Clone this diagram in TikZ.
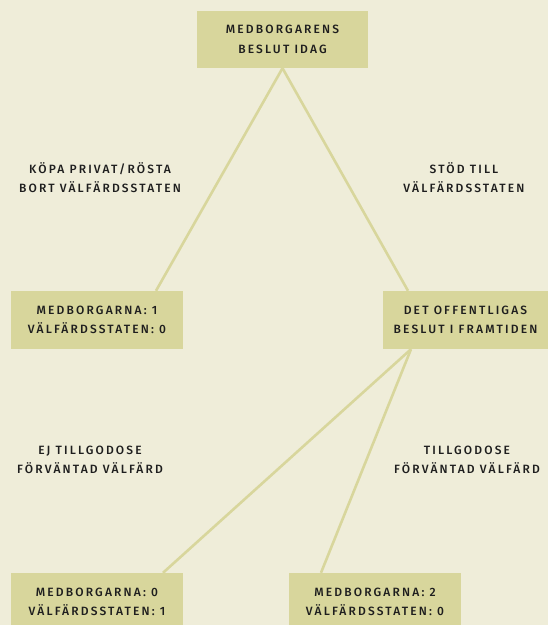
\documentclass[tikz,border=0pt]{standalone}
\usepackage{fontspec}
\setmainfont{Fira Sans}[UprightFont=* Medium,LetterSpace=18]
\definecolor{bg}{HTML}{EFEDD9}
\definecolor{boxfill}{HTML}{D8D69C}
\definecolor{ink}{HTML}{1E1E1E}
\begin{document}
\begin{tikzpicture}[x=1pt,y=-1pt,
  box/.style={fill=boxfill,draw=none,inner sep=0pt,align=center,text=ink,
    font=\fontsize{12}{19.5}\selectfont},
  lbl/.style={inner sep=0pt,align=center,text=ink,font=\fontsize{12}{19}\selectfont},
  link/.style={draw=boxfill,line width=2.6pt}]
\fill[bg] (0,0) rectangle (548,625);
\useasboundingbox (0,0) rectangle (548,625);
\begin{scope}
\clip (0,0) rectangle (548,625);
\node[box,minimum width=171pt,minimum height=57pt] (top) at (282.5,39.5) {MEDBORGARENS\\BESLUT IDAG};
\node[box,minimum width=172pt,minimum height=58pt] (lm) at (97,320) {MEDBORGARNA: 1\\VÄLFÄRDSSTATEN: 0};
\node[box,minimum width=165pt,minimum height=58pt] (rm) at (465.5,320) {DET OFFENTLIGAS\\BESLUT I FRAMTIDEN};
\node[box,minimum width=172pt,minimum height=58pt] (lb) at (97,602) {MEDBORGARNA: 0\\VÄLFÄRDSSTATEN: 1};
\node[box,minimum width=172pt,minimum height=58pt] (rb) at (375,602) {MEDBORGARNA: 2\\VÄLFÄRDSSTATEN: 0};
\coordinate (lmt) at ([xshift=59pt]lm.north);
\coordinate (rmt) at ([xshift=-57.5pt]rm.north);
\coordinate (rms) at ([xshift=-54.5pt]rm.south);
\coordinate (lbt) at ([xshift=66pt]lb.north);
\coordinate (rbt) at ([xshift=-54pt]rb.north);
\draw[link] (top.south) -- (lmt);
\draw[link] (top.south) -- (rmt);
\draw[link] (rms) -- (lbt);
\draw[link] (rms) -- (rbt);
\node[lbl] (l1) at (100,177.5) {KÖPA PRIVAT/RÖSTA\\BORT VÄLFÄRDSSTATEN};
\node[lbl] (l2) at (464,177.5) {STÖD TILL\\VÄLFÄRDSSTATEN};
\node[lbl] (l3) at (90,459.5) {EJ TILLGODOSE\\FÖRVÄNTAD VÄLFÄRD};
\node[lbl] (l4) at (467,459.5) {TILLGODOSE\\FÖRVÄNTAD VÄLFÄRD};
\end{scope}
\end{tikzpicture}
\end{document}
